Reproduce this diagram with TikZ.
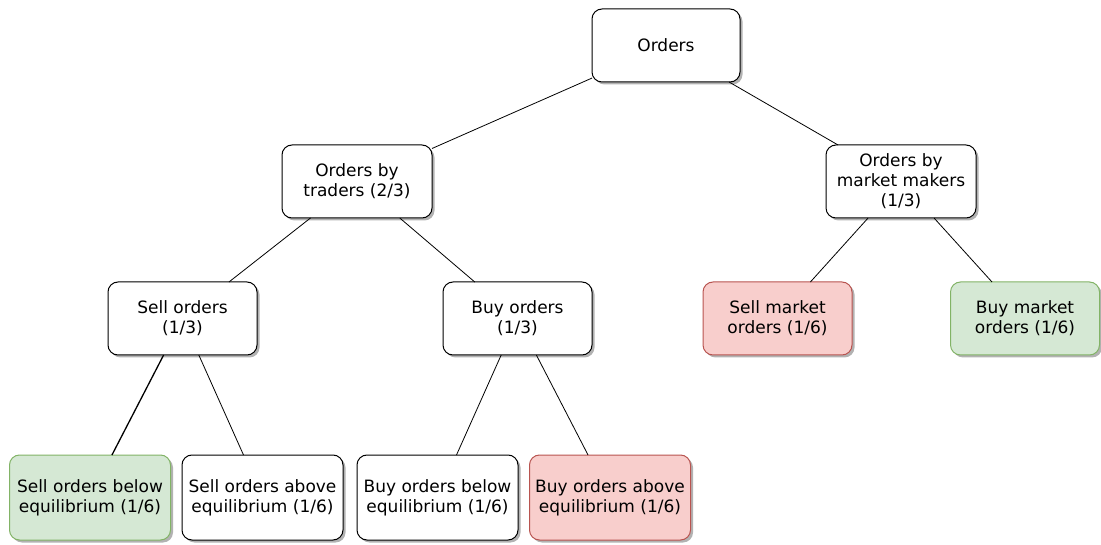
\documentclass[tikz,border=0pt]{standalone}
\usepackage{fontspec}
\setmainfont{DejaVu Sans}
\usepackage{xcolor}
\usepackage{tikz}
\usetikzlibrary{shapes,positioning,calc,shadows}

\definecolor{greenfill}{HTML}{D5E8D4}
\definecolor{greenline}{HTML}{82B366}
\definecolor{redfill}{HTML}{F8CECC}
\definecolor{redline}{HTML}{B85450}

\begin{document}
\begin{tikzpicture}[x=1pt,y=1pt,every node/.style={outer sep=0pt,font=\fontsize{17pt}{20pt}\selectfont}]
\tikzstyle{box}=[draw,line width=1pt,rounded corners=10pt,fill=white,align=center,
inner sep=0pt,minimum width=149pt,minimum height=73pt,
drop shadow={shadow xshift=2.5pt,shadow yshift=-2.5pt,fill=black,opacity=0.3}]
\tikzstyle{leaf}=[box,minimum width=161pt,minimum height=85pt]
\tikzstyle{good}=[fill=greenfill,draw=greenline]
\tikzstyle{bad}=[fill=redfill,draw=redline]
\tikzstyle{link}=[line width=0.8pt]
\useasboundingbox (0,0) rectangle (1101,-545);
% top levels
\node (orders) [box,minimum width=148pt] at (666,-45.5) {Orders};
\node (traders) [box,minimum width=150pt] at (357,-181.5) {Orders by\\traders (2/3)};
\node (makers) [box,minimum width=150pt] at (901,-181.5) {Orders by\\market makers\\(1/3)};
% third row
\node (sell) [box] at (182.5,-318.5) {Sell orders\\(1/3)};
\node (buy) [box] at (517.5,-318.5) {Buy orders\\(1/3)};
\node (sellmkt) [box,bad] at (777.5,-318.5) {Sell market\\orders (1/6)};
\node (buymkt) [box,good] at (1025,-318.5) {Buy market\\orders (1/6)};
% bottom row
\node (sellbelow) [leaf,good] at (90,-497.5) {Sell orders below\\equilibrium (1/6)};
\node (sellabove) [leaf] at (262.5,-497.5) {Sell orders above\\equilibrium (1/6)};
\node (buybelow) [leaf] at (437.5,-497.5) {Buy orders below\\equilibrium (1/6)};
\node (buyabove) [leaf,bad] at (610,-497.5) {Buy orders above\\equilibrium (1/6)};
% connectors
\draw [link] (orders) -- (traders);
\draw [link] (orders) -- (makers);
\draw [link] (traders) -- (sell);
\draw [link] (traders) -- (buy);
\draw [link] (makers) -- (sellmkt);
\draw [link] (makers) -- (buymkt);
\draw [link,line width=1.3pt] (sell) -- (sellbelow);
\draw [link] (sell) -- (sellabove);
\draw [link] (buy) -- (buybelow);
\draw [link] (buy) -- (buyabove);
\end{tikzpicture}
\end{document}
